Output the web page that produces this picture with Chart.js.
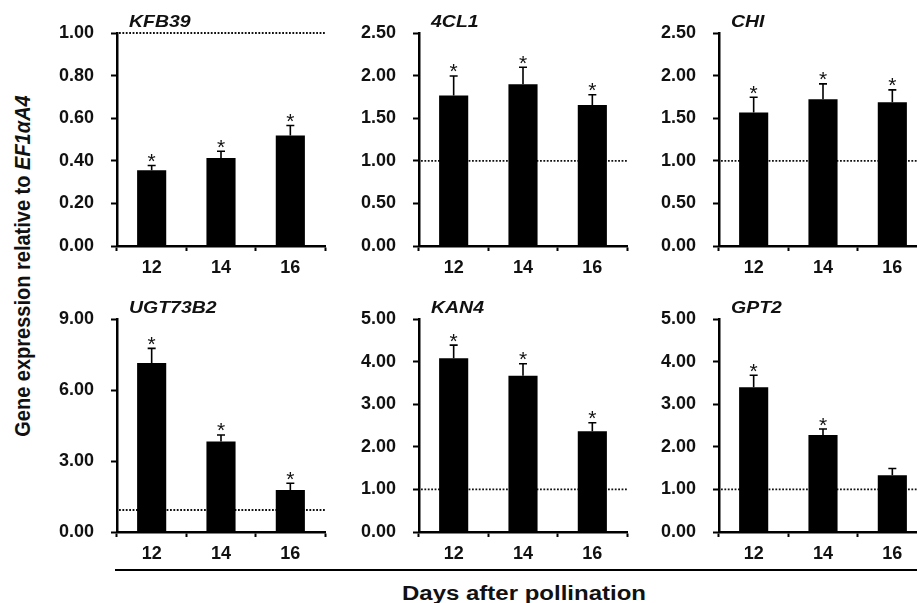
<!DOCTYPE html>
<html><head><meta charset="utf-8">
<script src="https://cdn.jsdelivr.net/npm/chart.js@4"></script>
<style>
html,body{margin:0;padding:0;background:#fff;width:917px;height:603px;overflow:hidden;position:relative;font-family:"Liberation Sans",Arial,sans-serif;}
canvas{position:absolute;}
#ytitle{position:absolute;left:23px;top:266px;transform:translate(-50%,-50%) rotate(-90deg) scaleY(1.12);white-space:nowrap;font:bold 20px "Liberation Sans",Arial,sans-serif;color:#111;}
#xtitle{position:absolute;left:524px;top:593px;transform:translate(-50%,-50%) scaleX(1.2);white-space:nowrap;font:bold 20px "Liberation Sans",Arial,sans-serif;color:#111;}
#xline{position:absolute;left:115px;top:569px;width:802px;height:2px;background:#000;}
</style>
</head><body>
<canvas id="c0" width="298" height="276" style="left:37px;top:0px"></canvas>
<canvas id="c1" width="298" height="276" style="left:339px;top:0px"></canvas>
<canvas id="c2" width="298" height="276" style="left:639px;top:0px"></canvas>
<canvas id="c3" width="298" height="276" style="left:37px;top:286px"></canvas>
<canvas id="c4" width="298" height="276" style="left:339px;top:286px"></canvas>
<canvas id="c5" width="298" height="276" style="left:639px;top:286px"></canvas>
<div id="ytitle">Gene expression relative to <i>EF1αA4</i></div>
<div id="xline"></div>
<div id="xtitle">Days after pollination</div>
<script>
// ---- data ----
const days = ["12", "14", "16"];
const genes = ["KFB39", "4CL1", "CHI", "UGT73B2", "KAN4", "GPT2"];
const kfb39Mean = [0.356, 0.413, 0.519];
const kfb39Err  = [0.022, 0.032, 0.047];
const cl1Mean   = [1.766, 1.898, 1.656];
const cl1Err    = [0.23, 0.20, 0.12];
const chiMean   = [1.566, 1.723, 1.688];
const chiErr    = [0.18, 0.18, 0.145];
const ugtMean   = [7.14, 3.82, 1.775];
const ugtErr    = [0.62, 0.28, 0.285];
const kan4Mean  = [4.077, 3.67, 2.363];
const kan4Err   = [0.31, 0.28, 0.20];
const gpt2Mean  = [3.40, 2.277, 1.33];
const gpt2Err   = [0.28, 0.14, 0.16];
const significant = [[1,1,1],[1,1,1],[1,1,1],[1,1,1],[1,1,1],[1,1,0]];
const yMax  = [1.0, 2.5, 2.5, 9, 5, 5];
const yStep = [0.2, 0.5, 0.5, 3, 1, 1];
const refLevel = [1, 1, 1, 0.93, 1, 1];

const means = [kfb39Mean, cl1Mean, chiMean, ugtMean, kan4Mean, gpt2Mean];
const errs  = [kfb39Err, cl1Err, chiErr, ugtErr, kan4Err, gpt2Err];

const FONT = '"Liberation Sans", Arial, sans-serif';

const extras = {
  id: 'panelExtras',
  beforeDatasetsDraw(chart, args, o) {
    const ctx = chart.ctx, a = chart.chartArea, y = chart.scales.y;
    const py = y.getPixelForValue(o.ref);
    ctx.save();
    ctx.strokeStyle = '#111';
    ctx.lineWidth = 1.8;
    ctx.setLineDash([1.8, 1.6]);
    ctx.beginPath();
    ctx.moveTo(a.left + 2, py);
    ctx.lineTo(a.right, py);
    ctx.stroke();
    ctx.restore();
  },
  afterDatasetsDraw(chart, args, o) {
    const ctx = chart.ctx, a = chart.chartArea, y = chart.scales.y;
    const meta = chart.getDatasetMeta(0);
    ctx.save();
    meta.data.forEach((bar, i) => {
      const top = y.getPixelForValue(o.mean[i] + o.err[i]);
      ctx.strokeStyle = '#000';
      ctx.lineWidth = 1.6;
      ctx.beginPath();
      ctx.moveTo(bar.x, bar.y);
      ctx.lineTo(bar.x, top);
      ctx.moveTo(bar.x - 4, top);
      ctx.lineTo(bar.x + 4, top);
      ctx.stroke();
      if (o.sig[i]) {
        ctx.fillStyle = '#111';
        ctx.font = '21px ' + FONT;
        ctx.textAlign = 'center';
        ctx.textBaseline = 'alphabetic';
        ctx.fillText('*', bar.x, top + 2.5);
      }
    });
    ctx.fillStyle = '#111';
    ctx.font = 'italic bold 16.5px ' + FONT;
    ctx.textAlign = 'left';
    ctx.textBaseline = 'alphabetic';
    ctx.translate(a.left + 12, a.top - 6);
    ctx.scale(1.18, 1);
    ctx.fillText(o.title, 0, 0);
    ctx.restore();
  }
};

genes.forEach((g, k) => {
  new Chart(document.getElementById('c' + k), {
    type: 'bar',
    data: {
      labels: days,
      datasets: [{
        data: means[k],
        backgroundColor: '#000',
        borderWidth: 0,
        barPercentage: 0.42,
        categoryPercentage: 1.0
      }]
    },
    options: {
      responsive: false,
      animation: false,
      devicePixelRatio: 1,
      layout: { padding: { top: 33, right: 10, left: 0, bottom: 0 } },
      plugins: {
        legend: { display: false },
        tooltip: { enabled: false },
        panelExtras: { mean: means[k], err: errs[k], sig: significant[k], ref: refLevel[k], title: g }
      },
      scales: {
        x: {
          offset: true,
          grid: { display: true, offset: true, drawOnChartArea: false, tickLength: 5, tickWidth: 2, color: '#000' },
          border: { display: true, color: '#000', width: 2.5 },
          ticks: { color: '#111', padding: 6, font: { family: FONT, size: 18, weight: 'bold' } },
          afterFit(s) { s.height = 30; }
        },
        y: {
          min: 0,
          max: yMax[k],
          grid: { drawOnChartArea: false, tickLength: 6, tickWidth: 2, color: '#000' },
          border: { display: true, color: '#000', width: 2.5 },
          ticks: {
            stepSize: yStep[k],
            color: '#111',
            padding: 17,
            font: { family: FONT, size: 18, weight: 'bold' },
            callback: v => Number(v).toFixed(2)
          },
          afterFit(s) { s.width = 80; }
        }
      }
    },
    plugins: [extras]
  });
});
</script>
</body></html>
